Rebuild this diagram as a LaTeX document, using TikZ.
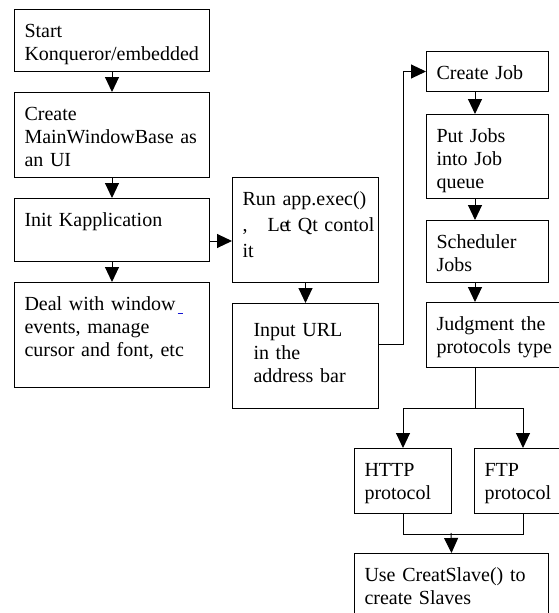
\documentclass[tikz,border=0pt]{standalone}
\usepackage{fontspec}
\usepackage{xcolor}
\usepackage{tikz}
\usetikzlibrary{
  positioning,
  calc,
  arrows.meta
}
\newfontfamily\flowserif{Liberation Serif}
\definecolor{linkblue}{RGB}{20,20,210}
\hyphenpenalty=10000
\exhyphenpenalty=10000

\tikzset{
  box/.style={draw, line width=1pt, anchor=north west, align=left,
    inner xsep=10pt, inner ysep=0pt, text height=27.5pt,
    font=\flowserif\fontsize{20}{23}\selectfont},
  link/.style={line width=1pt},
  arr/.style={line width=1pt, -{Triangle[length=15pt,width=14pt]}}
}

\begin{document}
\begin{tikzpicture}[x=1pt,y=-1pt]
  \useasboundingbox (0,0) rectangle (559,613);
  \clip (0,0) rectangle (559,613);

  % left column
  \node[box, text width=175pt, text depth=34.5pt] (start) at (14,9)
    {Start\\Konqueror/embedded};
  \node[box, text width=175pt, text depth=57.5pt] (create) at (14,92)
    {Create\\MainWindowBase as\\an UI};
  \node[box, text width=175pt, text depth=35.5pt] (init) at (14,198)
    {Init Kapplication};
  \node[box, text width=175pt, text depth=77.5pt] (deal) at (14,282)
    {Deal with window\hspace{2pt}\textcolor{linkblue}{\rule[-4pt]{5pt}{1.5pt}}\\events, manage\\cursor and font, etc};

  % middle column
  \node[box, text width=126pt, text depth=77.5pt] (run) at (232,177)
    {Run app.exec()\\[3pt]\mbox{,\hspace{20pt}Le\kern-3pt t~Qt~contol}\\[3pt]it};
  \node[box, inner xsep=21pt, text width=104pt, text height=33pt, text depth=72pt] (input) at (232,303)
    {Input URL\\in the\\address bar};

  % right column
  \node[box, text width=102pt, text depth=12.5pt] (job) at (426,51)
    {Create Job};
  \node[box, text width=102pt, text depth=56.5pt] (put) at (426,114)
    {Put Jobs\\into Job\\queue};
  \node[box, text width=102pt, text depth=34.5pt] (sched) at (426,220)
    {Scheduler\\Jobs};
  \node[box, text width=112.5pt, text depth=37.5pt] (judge) at (426,302)
    {Judgment the\\protocols~type};

  % protocols
  \node[box, text width=77pt, text depth=37.5pt] (http) at (354,448)
    {HTTP\\protocol};
  \node[box, text width=64.5pt, text depth=37.5pt] (ftp) at (474,448)
    {FTP\\protocol};
  \node[box, text width=174pt, text depth=52.5pt] (use) at (354,553)
    {Use CreatSlave() to\\create Slaves};

  \coordinate (spine) at (475,0);
  \coordinate (fork) at (523,0);
  \coordinate (join) at (451,533);

  \draw[arr] (start) -- (create);
  \draw[arr] (create) -- (init);
  \draw[arr] (init) -- (deal);
  \draw[arr] ([yshift=-11pt]init.east) -- ([yshift=-11pt]init.east -| run.west);
  \draw[arr] (run) -- (input);
  \draw[arr] ([yshift=11.5pt]input.east) -- ++(24,0) |- (job.west);

  \draw[arr] (job.south -| spine) -- (put.north -| spine);
  \draw[arr] (put.south -| spine) -- (sched.north -| spine);
  \draw[arr] (sched.south -| spine) -- (judge.north -| spine);

  \draw[link] (judge.south -| spine) -- ++(0,40) coordinate (split);
  \draw[arr] (split) -| (http.north);
  \draw[arr] (split) -| (ftp.north -| fork);

  \draw[link] (http.south) -- ++(0,20) -| (ftp.south -| fork);
  \draw[arr] (join) -- (use.north);
\end{tikzpicture}
\end{document}
